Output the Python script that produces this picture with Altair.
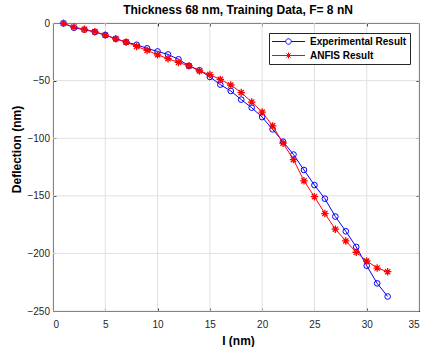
import altair as alt
import pandas as pd

x_vals = list(range(1, 33))
exp_vals = [-0.3, -4.1, -5.8, -7.8, -10.5, -13.7, -16.6, -18.9, -22.0, -24.7,
            -27.3, -31.5, -37.2, -41.0, -46.8, -53.5, -59.0, -66.5, -73.5, -81.7,
            -92.3, -103.0, -114.2, -127.6, -140.7, -152.5, -168.0, -180.8, -194.4,
            -210.7, -226.0, -237.4]
anfis_vals = [-0.3, -3.5, -5.5, -7.5, -10.5, -13.7, -16.6, -20.3, -23.8, -27.6,
              -31.0, -34.2, -37.2, -41.6, -44.8, -49.0, -53.8, -60.4, -68.6, -77.3,
              -89.3, -104.3, -118.6, -137.0, -150.8, -165.4, -179.0, -189.2, -199.0,
              -206.6, -212.7, -215.9]
series_names = ["Experimental Result", "ANFIS Result"]
x_ticks = [0, 5, 10, 15, 20, 25, 30, 35]
y_ticks = [-250, -200, -150, -100, -50, 0]

df = pd.DataFrame({
    "x": x_vals + x_vals,
    "y": exp_vals + anfis_vals,
    "series": [series_names[0]] * len(x_vals) + [series_names[1]] * len(x_vals),
})
xgrid_df = pd.DataFrame({"gx": x_ticks})
ygrid_df = pd.DataFrame({"gy": y_ticks})

BLUE = "#0000ff"
RED = "#ff0000"
INK = "#262626"
GRID = "#e0e0e0"
FONT = "Liberation Sans"
ASTER = "M-1,0H1M0,-1V1M-0.7,-0.7L0.7,0.7M-0.7,0.7L0.7,-0.7"
LEG_CIRCLE = "M-3.3,0H-0.55M0.55,0H3.3M0.55,0A0.55,0.55 0 1 1 -0.55,0A0.55,0.55 0 1 1 0.55,0"
LEG_ASTER = "M-3.3,0H3.3M-0.6,0H0.6M0,-0.6V0.6M-0.42,-0.42L0.42,0.42M-0.42,0.42L0.42,-0.42"

xscale = alt.Scale(domain=[0, 35], nice=False, zero=False)
yscale = alt.Scale(domain=[-250, 0], nice=False)

main_x = alt.Axis(values=x_ticks, title="I (nm)", grid=False, ticks=True, tickSize=3,
                  tickColor=INK, offset=-3, domain=False,
                  labelPadding=8, titleX=185, titleY=36, titleBaseline="alphabetic")
main_y = alt.Axis(values=y_ticks, title="Deflection (nm)", grid=False, ticks=True, tickSize=3,
                  tickColor=INK, offset=-3, domain=False,
                  labelPadding=3.5, titleAngle=270, titleX=-40, titleY=126,
                  titleBaseline="middle", titleAlign="center")


def tick_axis(orient, vals):
    return alt.Axis(orient=orient, offset=-3, values=vals, ticks=True, tickSize=3,
                    tickColor=INK, labels=False, domain=False, grid=False, title=None)


exp_df = df[df.series == series_names[0]]
anf_df = df[df.series == series_names[1]]

xgrid = alt.Chart(xgrid_df).mark_rule(color=GRID, strokeWidth=1).encode(
    x=alt.X("gx:Q", scale=xscale, axis=None))
ygrid = alt.Chart(ygrid_df).mark_rule(color=GRID, strokeWidth=1).encode(
    y=alt.Y("gy:Q", scale=yscale, axis=None))

exp_line = alt.Chart(exp_df).mark_line(color=BLUE, strokeWidth=1).encode(
    x=alt.X("x:Q", scale=xscale, axis=main_x),
    y=alt.Y("y:Q", scale=yscale, axis=main_y),
)
exp_pts = alt.Chart(exp_df).mark_point(shape="circle", filled=False, color=BLUE,
                                       size=32, strokeWidth=1, opacity=1).encode(
    x=alt.X("x:Q", scale=xscale, axis=tick_axis("top", x_ticks)),
    y=alt.Y("y:Q", scale=yscale, axis=tick_axis("right", y_ticks)),
)
anf_line = alt.Chart(anf_df).mark_line(color=RED, strokeWidth=1).encode(
    x=alt.X("x:Q", scale=xscale, axis=None),
    y=alt.Y("y:Q", scale=yscale, axis=None),
)
anf_pts = alt.Chart(anf_df).mark_point(shape=ASTER, filled=False, color=RED,
                                       size=56, strokeWidth=1.3, opacity=1).encode(
    x=alt.X("x:Q", scale=xscale, axis=None),
    y=alt.Y("y:Q", scale=yscale, axis=None),
)

leg = alt.Legend(title=None, orient="none", legendX=216, legendY=10, padding=3,
                 strokeColor=INK, fillColor="white", symbolOffset=11, labelOffset=16,
                 symbolSize=100, symbolStrokeWidth=1, rowPadding=3,
                 labelFont=FONT, labelFontSize=10, labelFontWeight="bold", labelColor="black")

legend_layer = alt.Chart(df).transform_filter("false").mark_point(
    filled=False, size=100, strokeWidth=1, opacity=1).encode(
    x=alt.X("x:Q", scale=xscale, axis=None),
    y=alt.Y("y:Q", scale=yscale, axis=None),
    color=alt.Color("series:N", scale=alt.Scale(domain=series_names, range=[BLUE, RED]), legend=leg),
    shape=alt.Shape("series:N", scale=alt.Scale(domain=series_names, range=[LEG_CIRCLE, LEG_ASTER]),
                    legend=leg),
)

chart = alt.layer(xgrid, ygrid, exp_line, exp_pts, anf_line, anf_pts, legend_layer).resolve_axis(
    x="independent", y="independent"
).properties(
    width=366,
    height=288,
    autosize=alt.AutoSizeParams(type="none"),
    padding={"left": 53, "top": 23, "right": 5, "bottom": 36},
    background="white",
    title=alt.TitleParams("Thickness 68 nm, Training Data, F= 8 nN", anchor="middle",
                          frame="group", font=FONT, fontSize=12, fontWeight="bold",
                          color="black", baseline="alphabetic", offset=6, dx=2, dy=15),
).configure_view(
    stroke=INK, strokeWidth=1
).configure_axis(
    labelFont=FONT, labelFontSize=10, labelColor=INK,
    titleFont=FONT, titleFontSize=12, titleFontWeight="bold", titleColor="black",
)

chart.save("out.html", embed_options={"renderer": "svg", "actions": False})
